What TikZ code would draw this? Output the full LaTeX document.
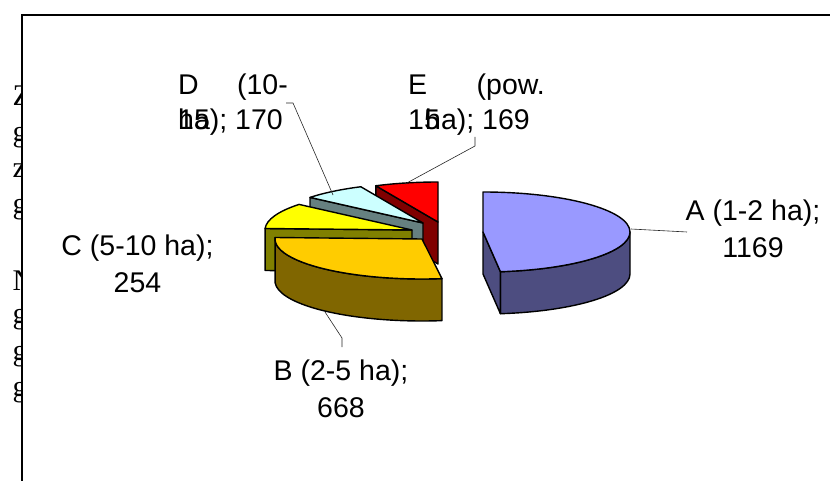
\documentclass[tikz,border=0pt]{standalone}
\usepackage{fontspec}
\setmainfont{Liberation Sans}
\newfontfamily\bgserif{Liberation Serif}
\usetikzlibrary{calc}

\definecolor{sliceAtop}{RGB}{153,153,255}
\definecolor{sliceAside}{RGB}{77,77,128}
\definecolor{sliceBtop}{RGB}{255,204,0}
\definecolor{sliceBside}{RGB}{128,102,0}
\definecolor{sliceCtop}{RGB}{255,255,0}
\definecolor{sliceCside}{RGB}{128,128,0}
\definecolor{sliceDtop}{RGB}{204,255,255}
\definecolor{sliceDside}{RGB}{102,128,128}
\definecolor{sliceEtop}{RGB}{255,0,0}
\definecolor{sliceEside}{RGB}{128,0,0}

\begin{document}
\begin{tikzpicture}[
    x=1pt,y=1pt,
    face/.style={draw=black,line width=1.4pt,line join=round},
    pie arc/.style={x radius=147pt,y radius=40pt},
    leader/.style={draw=black!85,line width=0.6pt},
    lbl/.style={font=\fontsize{28.5}{37}\selectfont,inner sep=0pt,align=center},
    part/.style={font=\fontsize{28.5}{37}\selectfont,inner sep=0pt}
]
 \useasboundingbox (0,0) rectangle (830,-481);

 % page text behind the chart
 \begin{scope}
  \clip (0,0) rectangle (21,-481);
  \foreach \ch/\yb [count=\i] in {Z/106,g/141.5,z/178,g/213.5,N/290,g/323.5,g/360.5,g/396.5}
    \node[anchor=base west,inner sep=0pt,font=\bgserif\fontsize{30}{36}\selectfont] (bg\i) at (12.5,-\yb) {\ch};
 \end{scope}

 % chart frame
 \draw[line width=1.6pt] (22,-481) -- (22,-15) -- (830,-15);

 % apex of each slice
 \coordinate (ca) at (483,-232);
 \coordinate (cb) at (422,-239);
 \coordinate (cc) at (412,-230);
 \coordinate (cd) at (423,-223);
 \coordinate (ce) at (438,-222);

 % E (pow. 15 ha)
 \path[face,fill=sliceEside] (ce) -- ++(115.03:147pt and 40pt) -- ++(0,-42) -- ($(ce)+(0,-42)$) -- cycle;
 \path[face,fill=sliceEtop] (ce) -- ++(90:147pt and 40pt) arc[pie arc,start angle=90,end angle=115.03] -- cycle;

 % D (10-15 ha)
 \path[face,fill=sliceDside] (cd) -- ++(140.22:147pt and 40pt) -- ++(0,-42) -- ($(cd)+(0,-42)$) -- cycle;
 \path[face,fill=sliceDtop] (cd) -- ++(115.03:147pt and 40pt) arc[pie arc,start angle=115.03,end angle=140.22] -- cycle;

 % C (5-10 ha)
 \path[face,fill=sliceCside] (cc) -- ++(177.85:147pt and 40pt) -- ++(0,-42) -- ($(cc)+(0,-42)$) -- cycle;
 \path[face,fill=sliceCtop] (cc) -- ++(140.22:147pt and 40pt) arc[pie arc,start angle=140.22,end angle=177.85] -- cycle;

 % B (2-5 ha)
 \path[face,fill=sliceBside] (cb) ++(177.85:147pt and 40pt) arc[pie arc,start angle=177.85,end angle=277.81]
    -- ++(0,-42) arc[pie arc,start angle=277.81,end angle=177.85] -- cycle;
 \path[face,fill=sliceBtop] (cb) -- ++(177.85:147pt and 40pt) arc[pie arc,start angle=177.85,end angle=277.81] -- cycle;

 % A (1-2 ha)
 \path[face,fill=sliceAside] (ca) ++(-83.19:147pt and 40pt) arc[pie arc,start angle=-83.19,end angle=0]
    -- ++(0,-42) arc[pie arc,start angle=0,end angle=-83.19] -- cycle;
 \path[face,fill=sliceAside] (ca) -- ++(-83.19:147pt and 40pt) -- ++(0,-42) -- ($(ca)+(0,-42)$) -- cycle;
 \path[face,fill=sliceAtop] (ca) -- ++(90:147pt and 40pt) arc[pie arc,start angle=90,end angle=-83.19] -- cycle;

 % labels (base = baseline of the last line)
 \node[lbl,anchor=base] (lA) at (753,-258) {A (1-2 ha);\\1169};
 \node[lbl,anchor=base] (lB) at (341,-417) {B (2-5 ha);\\668};
 \node[lbl,anchor=base] (lC) at (137.5,-292) {C (5-10 ha);\\254};
 \node[part,anchor=base west] (lD1) at (178,-95) {D};
 \node[part,anchor=base east] (lD2) at (288,-95) {(10-};
 \node[part,anchor=base west] (lD3) at (178,-130) {15};
 \node[part,anchor=base west] (lD4) at (178,-130) {ha); 170};
 \node[part,anchor=base west] (lE1) at (408,-95) {E};
 \node[part,anchor=base east] (lE2) at (545,-95) {(pow.};
 \node[part,anchor=base west] (lE3) at (408,-130) {15};
 \node[part,anchor=base west] (lE4) at (425,-130) {ha); 169};

 % leader lines
 \coordinate (kA1) at (631,-229);
 \coordinate (kA2) at (687,-232);
 \coordinate (kB1) at (325,-312);
 \coordinate (kB2) at (342,-338);
 \coordinate (kB3) at (342,-347);
 \coordinate (kD1) at (286,-103);
 \coordinate (kD2) at (293,-103);
 \coordinate (kD3) at (333,-195);
 \coordinate (kE1) at (475,-137);
 \coordinate (kE2) at (475,-146);
 \coordinate (kE3) at (405,-184);
 \draw[leader] (kA1) -- (kA2);
 \draw[leader] (kB1) -- (kB2) -- (kB3);
 \draw[leader] (kD1) -- (kD2) -- (kD3);
 \draw[leader] (kE1) -- (kE2) -- (kE3);
\end{tikzpicture}
\end{document}
